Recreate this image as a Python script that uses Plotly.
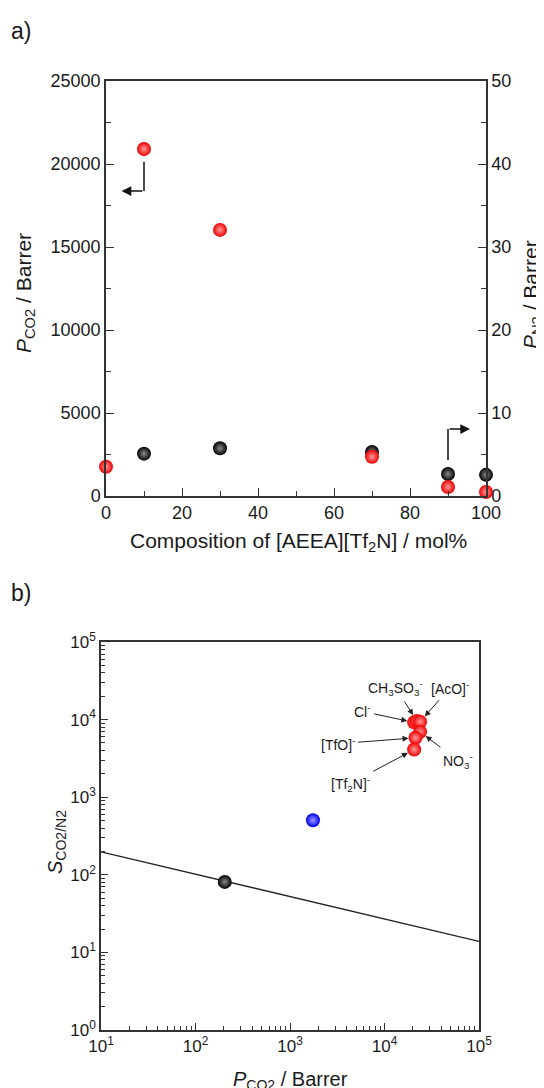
import math
import plotly.graph_objects as go

# ---------------- data: panel a ----------------
comp_co2 = [0, 10, 30, 70, 90, 100]
p_co2 = [1760, 20900, 16030, 2360, 540, 240]
comp_n2 = [10, 30, 70, 90, 100]
p_n2 = [5.1, 5.75, 5.3, 2.65, 2.55]

# ---------------- data: panel b ----------------
black_p = [204]
black_s = [81]
blue_p = [1750]
blue_s = [505]
ion_labels = ["Cl<sup>-</sup>", "CH<sub>3</sub>SO<sub>3</sub><sup>-</sup>", "[AcO]<sup>-</sup>",
              "NO<sub>3</sub><sup>-</sup>", "[TfO]<sup>-</sup>", "[Tf<sub>2</sub>N]<sup>-</sup>"]
ion_p = [20600, 22000, 23800, 23800, 21300, 20600]
ion_s = [9210, 9600, 9400, 6970, 5825, 4110]
bound_p = [10, 100000]
bound_s = [198, 13.9]

FONT = "Arial, Liberation Sans, sans-serif"
AX = "#333333"
TXT = "#1a1a1a"
PAGE_OFF = 8          # the html page body margin
W, H = 544 - PAGE_OFF, 1088 - PAGE_OFF

def px_x(x):
    return (x - PAGE_OFF) / W

def px_y(y):
    return 1 - (y - PAGE_OFF) / H

fig = go.Figure()

# N2 (right axis, base axis y) drawn first so CO2 is on top
fig.add_trace(go.Scatter(
    x=comp_n2, y=p_n2, mode="markers", xaxis="x", yaxis="y", cliponaxis=False,
    marker=dict(size=14, color="#000000", gradient=dict(type="radial", color="#8a8a8a"),
                line=dict(width=0)), showlegend=False))
fig.add_trace(go.Scatter(
    x=comp_co2, y=p_co2, mode="markers", xaxis="x", yaxis="y2", cliponaxis=False,
    marker=dict(size=14, color="#ee0000", gradient=dict(type="radial", color="#ff9a9a"),
                line=dict(width=0)), showlegend=False))

# panel b
fig.add_trace(go.Scatter(
    x=bound_p, y=bound_s, mode="lines", xaxis="x3", yaxis="y3",
    line=dict(color="#222222", width=1.3), showlegend=False))
fig.add_trace(go.Scatter(
    x=black_p, y=black_s, mode="markers", xaxis="x3", yaxis="y3", cliponaxis=False,
    marker=dict(size=14, color="#000000", gradient=dict(type="radial", color="#8a8a8a"),
                line=dict(width=0)), showlegend=False))
fig.add_trace(go.Scatter(
    x=blue_p, y=blue_s, mode="markers", xaxis="x3", yaxis="y3", cliponaxis=False,
    marker=dict(size=14, color="#0000ee", gradient=dict(type="radial", color="#9a9aff"),
                line=dict(width=0)), showlegend=False))
fig.add_trace(go.Scatter(
    x=ion_p, y=ion_s, mode="markers", xaxis="x3", yaxis="y3", cliponaxis=False,
    marker=dict(size=14, color="#ee0000", gradient=dict(type="radial", color="#ff9a9a"),
                line=dict(width=0)), showlegend=False))

common = dict(showgrid=False, zeroline=False, showline=True, linecolor=AX, linewidth=1.5,
              ticks="inside", tickwidth=1.3, tickcolor=AX, automargin=False)

# minor tick positions for log axes
log_minor_x = [m * 10 ** d for d in range(1, 5) for m in range(2, 10)]
log_minor_y = [m * 10 ** d for d in range(0, 5) for m in range(2, 10)]

tf_a = dict(family=FONT, size=18, color=TXT)
tf_b = dict(family=FONT, size=17, color=TXT)

fig.update_layout(
    width=W, height=H, margin=dict(l=0, r=0, t=0, b=0),
    paper_bgcolor="white", plot_bgcolor="white",
    font=dict(family=FONT, color=TXT),
    xaxis=dict(domain=[px_x(106), px_x(486)], range=[0, 100], anchor="y",
               dtick=20, tick0=0, mirror=True, ticklen=8, tickfont=tf_a,
               minor=dict(ticks="inside", ticklen=5, tickcolor=AX, dtick=10, tick0=0),
               **common),
    yaxis=dict(domain=[px_y(496), px_y(81)], range=[0, 50], anchor="x", side="right",
               dtick=10, tick0=0, ticklen=8, tickfont=tf_a,
               minor=dict(ticks="inside", ticklen=5, tickcolor=AX, dtick=5, tick0=0),
               **common),
    yaxis2=dict(range=[0, 25000], overlaying="y", anchor="x", side="left",
                dtick=5000, tick0=0, ticklen=8, tickfont=tf_a, tickformat="d",
                minor=dict(ticks="inside", ticklen=5, tickcolor=AX, dtick=2500, tick0=0),
                **common),
    xaxis3=dict(domain=[px_x(101), px_x(479)], type="log", range=[1, 5], anchor="y3",
                tickmode="array", tickvals=[10, 100, 1000, 10000, 100000],
                ticktext=["10<sup>1</sup>", "10<sup>2</sup>", "10<sup>3</sup>", "10<sup>4</sup>", "10<sup>5</sup>"],
                mirror=True, ticklen=7, tickfont=tf_b,
                minor=dict(ticks="inside", ticklen=4, tickcolor=AX, tickmode="array", tickvals=log_minor_x),
                **common),
    yaxis3=dict(domain=[px_y(1030), px_y(642)], type="log", range=[0, 5], anchor="x3",
                tickmode="array", tickvals=[1, 10, 100, 1000, 10000, 100000],
                ticktext=["10<sup>0</sup>", "10<sup>1</sup>", "10<sup>2</sup>", "10<sup>3</sup>", "10<sup>4</sup>", "10<sup>5</sup>"],
                mirror=True, ticklen=7, tickfont=tf_b,
                minor=dict(ticks="inside", ticklen=4, tickcolor=AX, tickmode="array", tickvals=log_minor_y),
                **common),
)

annotations = []
title_font = dict(family=FONT, size=21, color=TXT)
# panel labels
annotations.append(dict(text="a)", x=px_x(9), y=px_y(31), xref="paper", yref="paper",
                        xanchor="left", yanchor="middle", showarrow=False,
                        font=dict(family=FONT, size=23, color=TXT)))
annotations.append(dict(text="b)", x=px_x(9), y=px_y(593), xref="paper", yref="paper",
                        xanchor="left", yanchor="middle", showarrow=False,
                        font=dict(family=FONT, size=23, color=TXT)))
# axis titles panel a
annotations.append(dict(text="<i>P</i><sub>CO2</sub> / Barrer", x=px_x(25), y=px_y(293),
                        xref="paper", yref="paper", textangle=-90, showarrow=False,
                        xanchor="center", yanchor="middle", font=title_font))
annotations.append(dict(text="<i>P</i><sub>N2</sub> / Barrer", x=px_x(532), y=px_y(295),
                        xref="paper", yref="paper", textangle=-90, showarrow=False,
                        xanchor="center", yanchor="middle", font=title_font))
annotations.append(dict(text="Composition of [AEEA][Tf<sub>2</sub>N] / mol%", x=px_x(298), y=px_y(542),
                        xref="paper", yref="paper", showarrow=False,
                        xanchor="center", yanchor="middle", font=title_font))
# axis titles panel b
annotations.append(dict(text="<i>S</i><sub>CO2/N2</sub>", x=px_x(56), y=px_y(842),
                        xref="paper", yref="paper", textangle=-90, showarrow=False,
                        xanchor="center", yanchor="middle", font=dict(family=FONT, size=20, color=TXT)))
annotations.append(dict(text="<i>P</i><sub>CO2</sub> / Barrer", x=px_x(290), y=px_y(1080),
                        xref="paper", yref="paper", showarrow=False,
                        xanchor="center", yanchor="middle", font=dict(family=FONT, size=20, color=TXT)))

# bent arrows in panel a
arrow_left = dict(x_from=10, x_to=4.1, y_top=20140, y_turn=18370)
arrow_right = dict(x_from=90, x_to=95.8, y_bottom=4.35, y_turn=8.07)
shapes = [
    dict(type="line", xref="x", yref="y2", x0=arrow_left["x_from"], x1=arrow_left["x_from"],
         y0=arrow_left["y_top"], y1=arrow_left["y_turn"], line=dict(color="#111", width=1.5)),
    dict(type="line", xref="x", yref="y", x0=arrow_right["x_from"], x1=arrow_right["x_from"],
         y0=arrow_right["y_bottom"], y1=arrow_right["y_turn"], line=dict(color="#111", width=1.5)),
]
annotations.append(dict(x=arrow_left["x_to"], y=arrow_left["y_turn"], xref="x", yref="y2",
                        ax=arrow_left["x_from"], ay=arrow_left["y_turn"], axref="x", ayref="y2",
                        text="", showarrow=True, arrowhead=2, arrowsize=1.3, arrowwidth=1.5,
                        arrowcolor="#111"))
annotations.append(dict(x=arrow_right["x_to"], y=arrow_right["y_turn"], xref="x", yref="y",
                        ax=arrow_right["x_from"], ay=arrow_right["y_turn"], axref="x", ayref="y",
                        text="", showarrow=True, arrowhead=2, arrowsize=1.3, arrowwidth=1.5,
                        arrowcolor="#111"))

# ion labels panel b (offsets of labels from their points, in pixels)
label_dx = [-52, -21, 30, 38, -78, -64]
label_dy = [-11, -33, -34, 29, 6, 34]
for lab, p, s, dx, dy in zip(ion_labels, ion_p, ion_s, label_dx, label_dy):
    annotations.append(dict(x=math.log10(p), y=math.log10(s), xref="x3", yref="y3",
                            text=lab, showarrow=True, ax=dx, ay=dy, axref="pixel", ayref="pixel",
                            arrowhead=2, arrowsize=1.2, arrowwidth=1.0, arrowcolor="#222",
                            standoff=7, borderpad=3,
                            font=dict(family=FONT, size=14, color=TXT)))

fig.update_layout(annotations=annotations, shapes=shapes)
fig.write_html("out.html")
